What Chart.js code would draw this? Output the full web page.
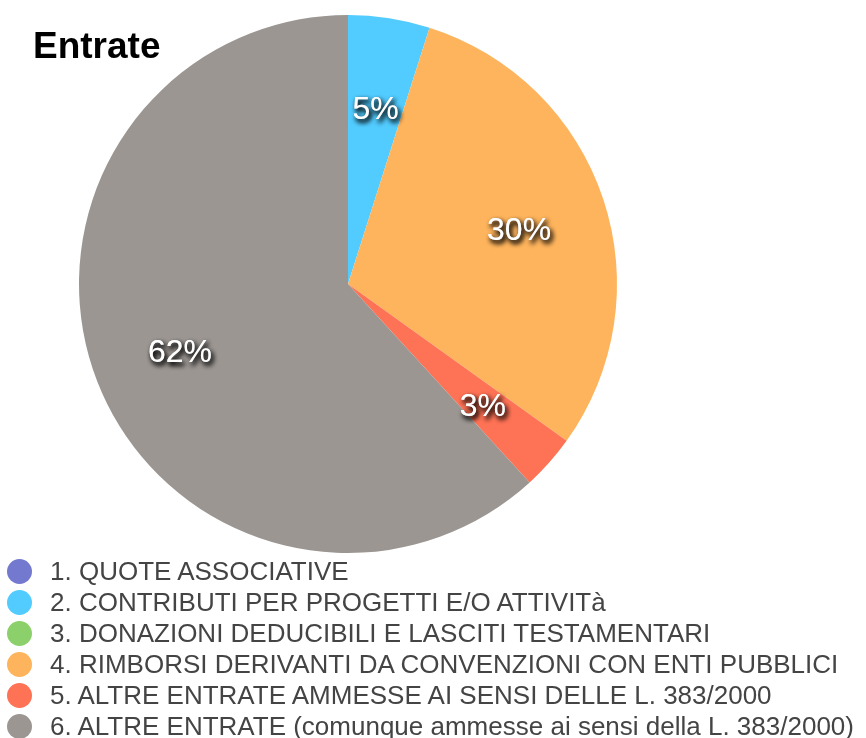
<!DOCTYPE html>
<html>
<head>
<meta charset="utf-8">
<script src="https://cdn.jsdelivr.net/npm/chart.js@4.4.0/dist/chart.umd.min.js"></script>
<style>
  html, body { margin: 0; padding: 0; background: #fff; }
  body { width: 866px; height: 738px; position: relative; overflow: hidden; font-family: "Liberation Sans", Arial, sans-serif; }
  #title { position: absolute; left: 33px; top: 25px; font-size: 37px; font-weight: bold; color: #000; margin: 0; }
  #wrap { position: absolute; left: 0; top: 0; width: 866px; height: 560px; }
  #legend { position: absolute; left: 0; top: 556px; margin: 0; padding: 0; list-style: none; }
  #legend li { height: 31px; line-height: 31px; font-size: 26px; color: #444; white-space: nowrap; position: relative; padding-left: 50px; }
  #legend li span { position: absolute; left: 7px; top: 3px; width: 25px; height: 25px; border-radius: 50%; }
</style>
</head>
<body>
<div id="wrap"><canvas id="chart"></canvas></div>
<h1 id="title">Entrate</h1>
<ul id="legend"></ul>
<script>
// voci di entrata
const categories = [
  '1. QUOTE ASSOCIATIVE',
  '2. CONTRIBUTI PER PROGETTI E/O ATTIVITà',
  '3. DONAZIONI DEDUCIBILI E LASCITI TESTAMENTARI',
  '4. RIMBORSI DERIVANTI DA CONVENZIONI CON ENTI PUBBLICI',
  '5. ALTRE ENTRATE AMMESSE AI SENSI DELLE L. 383/2000',
  '6. ALTRE ENTRATE (comunque ammesse ai sensi della L. 383/2000)'
];
const values = [0, 4.9, 0, 30.0, 3.3, 61.8];
const colors = ['#7379ce', '#52cbfe', '#8bd06a', '#feb45d', '#fe7356', '#9b9692'];

// percent labels with shadow, drawn inside the slices
const pctLabels = {
  id: 'pctLabels',
  afterDatasetsDraw(chart) {
    const ctx = chart.ctx;
    const meta = chart.getDatasetMeta(0);
    const total = values.reduce((a, b) => a + b, 0);
    ctx.save();
    ctx.font = '32px "Liberation Sans", Arial, sans-serif';
    ctx.textAlign = 'center';
    ctx.textBaseline = 'middle';
    ctx.fillStyle = '#fff';
    ctx.shadowColor = 'rgba(0,0,0,0.95)';
    ctx.shadowOffsetX = 2;
    ctx.shadowOffsetY = 3;
    ctx.shadowBlur = 5;
    meta.data.forEach((arc, i) => {
      if (!values[i]) return;
      const mid = (arc.startAngle + arc.endAngle) / 2;
      const r = arc.outerRadius * 0.67;
      const x = arc.x + Math.cos(mid) * r;
      const y = arc.y + Math.sin(mid) * r + 4;
      const txt = Math.round(values[i] / total * 100) + '%';
      ctx.fillText(txt, x, y);
      ctx.fillText(txt, x, y);
    });
    ctx.restore();
  }
};

new Chart(document.getElementById('chart'), {
  type: 'pie',
  data: {
    labels: categories,
    datasets: [{ data: values, backgroundColor: colors, borderWidth: 0 }]
  },
  options: {
    responsive: true,
    maintainAspectRatio: false,
    animation: false,
    layout: { padding: { left: 79, right: 249, top: 15, bottom: 7 } },
    plugins: {
      legend: { display: false },
      tooltip: { enabled: false }
    }
  },
  plugins: [pctLabels]
});

const legend = document.getElementById('legend');
categories.forEach((c, i) => {
  const li = document.createElement('li');
  const dot = document.createElement('span');
  dot.style.background = colors[i];
  li.appendChild(dot);
  li.appendChild(document.createTextNode(c));
  legend.appendChild(li);
});
</script>
</body>
</html>
